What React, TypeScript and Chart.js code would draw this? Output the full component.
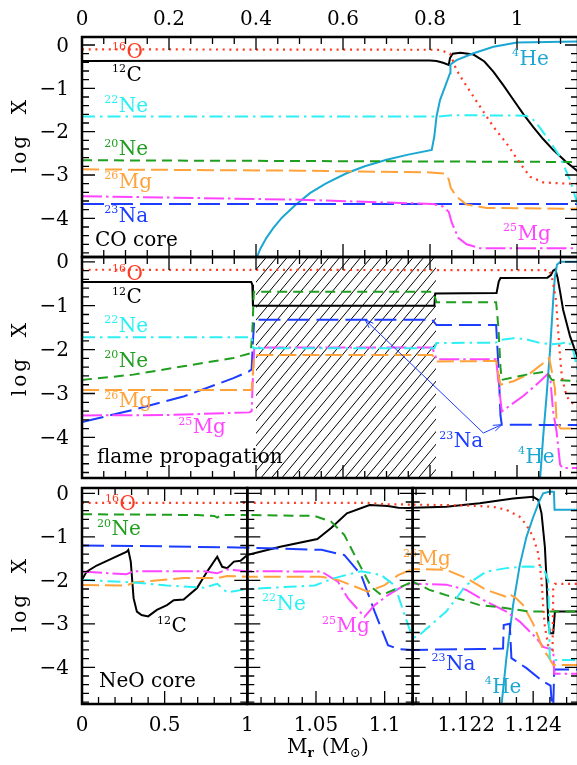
import React, { useEffect, useRef } from "react";
import { Chart, registerables } from "chart.js";

Chart.register(...registerables);

type Pt = [number, number];

// ---------- CO core: composition before carbon ignition ----------
const coO16: Pt[] = [[0, -0.1], [0.823, -0.11], [0.846, -0.2], [0.861, -0.58], [0.884, -0.95], [0.915, -1.42], [0.946, -1.89], [0.976, -2.27], [1.007, -2.73], [1.03, -3.04], [1.06, -3.17], [1.114, -3.2], [1.14, -3.2]];
const coC12: Pt[] = [[0, -0.37], [0.6, -0.36], [0.8, -0.36], [0.815, -0.37], [0.83, -0.41], [0.843, -0.46], [0.846, -0.3], [0.852, -0.2], [0.87, -0.18], [0.9, -0.22], [0.925, -0.38], [0.946, -0.62], [0.97, -0.95], [0.992, -1.27], [1.015, -1.6], [1.037, -1.89], [1.06, -2.17], [1.083, -2.42], [1.11, -2.67], [1.14, -2.92]];
const coNe22: Pt[] = [[0, -1.65], [0.82, -1.65], [0.85, -1.62], [1.02, -1.63], [1.035, -1.7], [1.045, -1.81], [1.068, -2.12], [1.099, -2.58], [1.122, -3.12], [1.14, -3.7]];
const coNe20: Pt[] = [[0, -2.66], [1.14, -2.7]];
const coMg26: Pt[] = [[0, -2.87], [0.5, -2.9], [0.8, -2.94], [0.835, -2.97], [0.843, -3.1], [0.848, -3.3], [0.861, -3.5], [0.884, -3.68], [0.93, -3.76], [1.14, -3.78]];
const coMg25: Pt[] = [[0, -3.49], [0.5, -3.57], [0.808, -3.67], [0.83, -3.73], [0.843, -3.85], [0.85, -4.1], [0.865, -4.45], [0.884, -4.6], [0.915, -4.69], [1.14, -4.69]];
const coNa23: Pt[] = [[0, -3.67], [1.14, -3.67]];
const coHe4: Pt[] = [[0.4, -4.95], [0.41, -4.7], [0.424, -4.45], [0.44, -4.22], [0.46, -3.98], [0.49, -3.7], [0.524, -3.42], [0.56, -3.2], [0.608, -2.96], [0.65, -2.8], [0.7, -2.65], [0.75, -2.53], [0.804, -2.42], [0.81, -2.1], [0.815, -1.65], [0.823, -1.27], [0.835, -0.95], [0.846, -0.65], [0.847, -0.45], [0.861, -0.35], [0.9, -0.19], [0.946, -0.04], [1.0, 0.06], [1.07, 0.07], [1.14, 0.08]];

// ---------- flame propagation ----------
const flameO16: Pt[] = [[0, -0.18], [1.074, -0.19], [1.08, -0.35], [1.085, -0.6], [1.09, -0.9], [1.095, -1.62], [1.099, -2.16], [1.103, -2.61], [1.114, -3.07], [1.13, -3.25], [1.14, -3.3]];
const flameC12: Pt[] = [[0, -0.46], [0.389, -0.46], [0.3915, -0.52], [0.393, -1.0], [0.81, -1.0], [0.812, -0.72], [0.953, -0.71], [0.958, -0.45], [0.962, -0.37], [1.07, -0.36], [1.078, -0.3], [1.083, -0.2], [1.088, -0.17], [1.093, -0.35], [1.099, -0.68], [1.106, -1.09], [1.122, -1.7], [1.14, -2.2]];
const flameNe22: Pt[] = [[0, -1.72], [0.39, -1.72], [0.394, -1.97], [0.81, -1.97], [0.815, -1.85], [0.952, -1.84], [0.96, -1.78], [0.992, -1.74], [1.02, -1.76], [1.053, -1.85], [1.08, -1.88], [1.1, -1.86], [1.12, -1.83], [1.13, -2.05], [1.14, -2.5]];
const flameNe20: Pt[] = [[0, -2.69], [0.118, -2.57], [0.233, -2.38], [0.348, -2.19], [0.388, -2.08], [0.392, -1.5], [0.395, -0.68], [0.805, -0.68], [0.81, -0.76], [0.815, -0.92], [0.952, -0.92], [0.957, -1.47], [0.962, -2.4], [0.965, -2.69], [1.022, -2.57], [1.068, -2.5], [1.075, -2.62], [1.08, -2.69], [1.14, -2.72]];
const flameMg26: Pt[] = [[0, -2.92], [0.39, -2.92], [0.393, -2.5], [0.396, -2.12], [0.805, -2.12], [0.815, -2.27], [0.952, -2.26], [0.958, -2.6], [0.962, -2.8], [0.992, -2.72], [1.03, -2.54], [1.06, -2.31], [1.074, -2.19], [1.08, -2.5], [1.087, -2.87], [1.091, -3.64], [1.1, -3.8], [1.14, -3.8]];
const flameMg25: Pt[] = [[0, -3.5], [0.2, -3.49], [0.385, -3.43], [0.39, -3.4], [0.393, -2.6], [0.396, -1.95], [0.805, -1.95], [0.815, -2.22], [0.952, -2.22], [0.958, -2.8], [0.965, -3.41], [1.015, -3.05], [1.05, -2.75], [1.07, -2.56], [1.076, -2.6], [1.083, -3.41], [1.091, -3.87], [1.099, -4.62], [1.105, -4.7], [1.14, -4.7]];
const flameNa23: Pt[] = [[0, -3.65], [0.118, -3.37], [0.233, -3.07], [0.348, -2.65], [0.383, -2.5], [0.39, -2.45], [0.393, -1.8], [0.396, -1.32], [0.805, -1.32], [0.815, -1.44], [0.952, -1.44], [0.958, -2.5], [0.962, -3.5], [0.965, -3.71], [1.14, -3.72]];
const flameHe4: Pt[] = [[1.053, -4.95], [1.06, -4.0], [1.068, -3.05], [1.076, -2.0], [1.083, -0.9], [1.087, -0.35], [1.092, -0.06], [1.1, 0.0], [1.14, 0.0]];
// mass range swept by the burning front
const flameZone: Pt = [0.4, 0.814];
// arrow from the 23Na label to its two plateaus
const naArrowFrom: Pt = [0.9225, -3.9];
const naArrowTo: Pt[] = [[0.651, -1.32], [0.965, -3.71]];

// ---------- NeO core ----------
const neoO16: Pt[] = [[0, -0.22], [1.088, -0.22], [1.1, -0.25], [1.1204, -0.26], [1.122, -0.28], [1.1228, -0.31], [1.1232, -0.38], [1.1236, -0.54], [1.1238, -0.73], [1.124, -1.0], [1.12415, -1.38], [1.12425, -1.99], [1.1243, -2.6], [1.12435, -3.07], [1.12445, -3.5], [1.12458, -3.6], [1.1246, -2.2], [1.12465, -2.08], [1.1254, -2.08]];
const neoC12: Pt[] = [[0, -1.99], [0.028, -1.8], [0.089, -1.66], [0.18, -1.5], [0.271, -1.34], [0.28, -1.3], [0.295, -1.57], [0.312, -2.41], [0.332, -2.72], [0.36, -2.8], [0.4, -2.83], [0.453, -2.68], [0.514, -2.57], [0.555, -2.46], [0.615, -2.44], [0.696, -2.18], [0.757, -1.8], [0.818, -1.46], [0.848, -1.69], [0.878, -1.72], [0.919, -1.57], [0.959, -1.55], [1.0, -1.42], [1.024, -1.23], [1.051, -1.05], [1.061, -0.8], [1.0725, -0.46], [1.089, -0.27], [1.1024, -0.29], [1.11, -0.33], [1.117, -0.34], [1.1204, -0.33], [1.1214, -0.31], [1.1224, -0.23], [1.1234, -0.12], [1.124, -0.08], [1.12415, -0.15], [1.12425, -0.46], [1.12435, -1.23], [1.1244, -1.99], [1.12445, -2.91], [1.1245, -3.22], [1.1246, -3.22], [1.12465, -2.72], [1.1254, -2.72]];
const neoNe22: Pt[] = [[0, -1.99], [0.312, -2.05], [0.514, -2.12], [0.737, -2.17], [0.818, -2.08], [0.878, -2.28], [1.0, -2.2], [1.049, -2.12], [1.0634, -1.95], [1.0829, -1.79], [1.0975, -1.88], [1.1073, -2.12], [1.1146, -2.8], [1.1204, -3.33], [1.1206, -3.26], [1.1214, -2.72], [1.122, -2.11], [1.1226, -1.8], [1.1232, -1.72], [1.1238, -1.68], [1.1243, -1.7], [1.12445, -2.0], [1.1245, -3.83], [1.1254, -3.83]];
const neoNe20: Pt[] = [[0, -0.48], [0.7, -0.5], [0.8, -0.52], [0.818, -0.56], [0.84, -0.5], [1.0, -0.5], [1.049, -0.52], [1.061, -0.65], [1.0707, -0.96], [1.0805, -1.57], [1.0902, -2.15], [1.0975, -2.34], [1.1098, -2.18], [1.1204, -2.03], [1.1209, -2.22], [1.1214, -2.34], [1.1219, -2.45], [1.1224, -2.57], [1.123, -2.62], [1.1239, -2.72], [1.1254, -2.72]];
const neoMg26: Pt[] = [[0, -2.11], [0.27, -2.12], [0.312, -2.05], [0.615, -1.95], [0.818, -1.95], [0.878, -1.9], [1.0, -1.92], [1.054, -1.92], [1.0659, -1.99], [1.0756, -2.11], [1.0878, -2.26], [1.1, -2.11], [1.1098, -1.88], [1.1204, -1.74], [1.1214, -1.76], [1.122, -1.95], [1.1226, -2.22], [1.1232, -2.38], [1.1233, -2.32], [1.1235, -2.42], [1.1237, -2.57], [1.124, -3.0], [1.1243, -3.6], [1.12445, -3.75], [1.1246, -3.95], [1.1254, -3.95]];
const neoMg25: Pt[] = [[0, -1.8], [0.27, -1.86], [0.312, -1.79], [0.74, -1.79], [0.818, -1.84], [0.878, -1.75], [1.0, -1.79], [1.054, -1.8], [1.0659, -2.03], [1.0732, -2.41], [1.0853, -2.84], [1.0927, -2.57], [1.1024, -2.34], [1.1146, -2.11], [1.1204, -2.08], [1.1214, -2.1], [1.122, -2.22], [1.1226, -2.49], [1.1232, -2.72], [1.1236, -2.95], [1.1241, -3.33], [1.1243, -3.53], [1.1246, -3.6], [1.12463, -4.15], [1.1254, -4.15]];
const neoNa23: Pt[] = [[0, -1.2], [0.5, -1.22], [1.0, -1.25], [1.054, -1.3], [1.0707, -1.42], [1.0829, -1.88], [1.0927, -2.72], [1.1024, -3.49], [1.1098, -3.58], [1.1204, -3.6], [1.1224, -3.58], [1.1231, -3.57], [1.12312, -3.03], [1.1233, -3.0], [1.12335, -3.79], [1.1238, -4.02], [1.1243, -4.33], [1.12452, -4.42], [1.12456, -4.9], [1.1246, -4.9], [1.12463, -4.05], [1.1254, -4.05]];
const neoHe4: Pt[] = [[1.12305, -4.9], [1.1232, -3.79], [1.1234, -2.57], [1.1236, -1.65], [1.1238, -1.0], [1.124, -0.55], [1.1242, -0.15], [1.1243, 0.0], [1.1245, 0.04], [1.12462, 0.03], [1.12464, -0.38], [1.1254, -0.38]];

// ---------- axis ranges ----------
const massRangeCO: Pt = [0, 1.1402];
const neoRangeA: Pt = [0, 1];
const neoRangeB: Pt = [1, 1.1204];
const neoRangeC: Pt = [1.1204, 1.12534];
const logRangeCO: Pt = [-4.893, 0.185];
const logRangeFlame: Pt = [-4.925, 0.11];
const logRangeNeO: Pt = [-4.844, 0.122];

type Species = "O16" | "C12" | "Ne22" | "Ne20" | "Mg26" | "Mg25" | "Na23" | "He4";

const STYLE: Record<Species, { color: string; dash: number[]; width: number }> = {
  O16: { color: "#ff3a22", dash: [2, 4.7], width: 2.2 },
  C12: { color: "#000000", dash: [], width: 2 },
  Ne22: { color: "#2cf0f4", dash: [13, 5, 2.5, 5], width: 2 },
  Ne20: { color: "#1f9e1f", dash: [10, 6], width: 2 },
  Mg26: { color: "#ffa23a", dash: [17, 6], width: 2 },
  Mg25: { color: "#ff45ff", dash: [20, 4, 2.5, 4], width: 2 },
  Na23: { color: "#1c3dff", dash: [22, 7], width: 2 },
  He4: { color: "#1ca7d3", dash: [], width: 2 },
};

const DRAW_ORDER: Species[] = ["O16", "Ne22", "Ne20", "Mg26", "Mg25", "Na23", "He4", "C12"];

const FONT = '"DejaVu Serif", serif';
const CANVAS_W = 620;
const CANVAS_H = 765;

type Label = { s: Species | null; x: number; y: number; sup?: string; t: string };
type TickSpec = { step: number; every: number; label: "top" | "bottom" | null; skip?: number[] };

type PanelSpec = {
  key: string;
  box: { l: number; t: number; r: number; b: number };
  xr: Pt;
  yr: Pt;
  series: Partial<Record<Species, Pt[]>>;
  xt: TickSpec;
  yLabels: boolean;
  labels: Label[];
  yTitleY?: number;
  hatch?: Pt;
  arrows?: { from: Pt; to: Pt[] };
  xTitle?: boolean;
};

const coSeries = { O16: coO16, C12: coC12, Ne22: coNe22, Ne20: coNe20, Mg26: coMg26, Mg25: coMg25, Na23: coNa23, He4: coHe4 };
const flameSeries = { O16: flameO16, C12: flameC12, Ne22: flameNe22, Ne20: flameNe20, Mg26: flameMg26, Mg25: flameMg25, Na23: flameNa23, He4: flameHe4 };
const neoSeries = { O16: neoO16, C12: neoC12, Ne22: neoNe22, Ne20: neoNe20, Mg26: neoMg26, Mg25: neoMg25, Na23: neoNa23, He4: neoHe4 };

const PANELS: PanelSpec[] = [
  {
    key: "co",
    box: { l: 82, t: 37, r: 578, b: 257 },
    xr: massRangeCO,
    yr: logRangeCO,
    series: coSeries,
    xt: { step: 0.05, every: 4, label: "top" },
    yLabels: true,
    yTitleY: 135,
    labels: [
      { s: "O16", x: 0.069, y: -0.3, sup: "16", t: "O" },
      { s: "C12", x: 0.069, y: -0.83, sup: "12", t: "C" },
      { s: "Ne22", x: 0.051, y: -1.546, sup: "22", t: "Ne" },
      { s: "Ne20", x: 0.051, y: -2.54, sup: "20", t: "Ne" },
      { s: "Mg26", x: 0.051, y: -3.3, sup: "26", t: "Mg" },
      { s: "Na23", x: 0.051, y: -4.085, sup: "23", t: "Na" },
      { s: "He4", x: 0.9885, y: -0.46, sup: "4", t: "He" },
      { s: "Mg25", x: 0.968, y: -4.5, sup: "25", t: "Mg" },
      { s: null, x: 0.03, y: -4.64, t: "CO core" },
    ],
  },
  {
    key: "flame",
    box: { l: 82, t: 257, r: 578, b: 478 },
    xr: massRangeCO,
    yr: logRangeFlame,
    series: flameSeries,
    xt: { step: 0.05, every: 4, label: null },
    yLabels: true,
    yTitleY: 358,
    hatch: flameZone,
    arrows: { from: naArrowFrom, to: naArrowTo },
    labels: [
      { s: "O16", x: 0.069, y: -0.415, sup: "16", t: "O" },
      { s: "C12", x: 0.069, y: -0.94, sup: "12", t: "C" },
      { s: "Ne22", x: 0.051, y: -1.59, sup: "22", t: "Ne" },
      { s: "Ne20", x: 0.051, y: -2.39, sup: "20", t: "Ne" },
      { s: "Mg26", x: 0.051, y: -3.31, sup: "26", t: "Mg" },
      { s: "Mg25", x: 0.221, y: -3.9, sup: "25", t: "Mg" },
      { s: null, x: 0.0345, y: -4.58, t: "flame propagation" },
      { s: "Na23", x: 0.821, y: -4.22, sup: "23", t: "Na" },
      { s: "He4", x: 1.002, y: -4.58, sup: "4", t: "He" },
    ],
  },
  {
    key: "neoA",
    box: { l: 82, t: 488, r: 247.3, b: 704 },
    xr: neoRangeA,
    yr: logRangeNeO,
    series: neoSeries,
    xt: { step: 0.1, every: 5, label: "bottom" },
    yLabels: true,
    yTitleY: 594,
    xTitle: true,
    labels: [
      { s: "O16", x: 0.139, y: -0.384, sup: "16", t: "O" },
      { s: "Ne20", x: 0.091, y: -0.96, sup: "20", t: "Ne" },
      { s: "C12", x: 0.454, y: -3.19, sup: "12", t: "C" },
      { s: null, x: 0.103, y: -4.45, t: "NeO core" },
    ],
  },
  {
    key: "neoB",
    box: { l: 247.3, t: 488, r: 412.7, b: 704 },
    xr: neoRangeB,
    yr: logRangeNeO,
    series: neoSeries,
    xt: { step: 0.01, every: 5, label: "bottom", skip: [1] },
    yLabels: false,
    labels: [
      { s: "Ne22", x: 1.0107, y: -2.68, sup: "22", t: "Ne" },
      { s: "Mg25", x: 1.0544, y: -3.19, sup: "25", t: "Mg" },
      { s: "Mg26", x: 1.1134, y: -1.65, sup: "26", t: "Mg" },
    ],
  },
  {
    key: "neoC",
    box: { l: 412.7, t: 488, r: 578, b: 704 },
    xr: neoRangeC,
    yr: logRangeNeO,
    series: neoSeries,
    xt: { step: 0.0005, every: 4, label: "bottom" },
    yLabels: false,
    labels: [
      { s: "Na23", x: 1.12096, y: -4.06, sup: "23", t: "Na" },
      { s: "He4", x: 1.12255, y: -4.59, sup: "4", t: "He" },
    ],
  },
];

function fmt(v: number): string {
  const s = parseFloat(v.toFixed(5)).toString();
  return s.replace("-", "\u2212");
}

function drawIsotope(ctx: CanvasRenderingContext2D, x: number, y: number, sup: string | undefined, text: string, color: string) {
  ctx.fillStyle = color;
  ctx.textAlign = "left";
  ctx.textBaseline = "alphabetic";
  let cx = x;
  if (sup) {
    ctx.font = `11px ${FONT}`;
    ctx.fillText(sup, cx, y - 8.5);
    cx += ctx.measureText(sup).width + 0.5;
  }
  ctx.font = `20px ${FONT}`;
  ctx.fillText(text, cx, y);
}

function framePlugin(p: PanelSpec) {
  return {
    id: "frame_" + p.key,
    beforeDatasetsDraw(chart: any) {
      if (!p.hatch) return;
      const ctx: CanvasRenderingContext2D = chart.ctx;
      const { top, bottom } = chart.chartArea;
      const xs = chart.scales.x;
      const xa = xs.getPixelForValue(p.hatch[0]);
      const xb = xs.getPixelForValue(p.hatch[1]);
      const h = bottom - top;
      const slope = 1.2;
      const run = h / slope;
      ctx.save();
      ctx.beginPath();
      ctx.rect(xa, top, xb - xa, h);
      ctx.clip();
      ctx.strokeStyle = "#000";
      ctx.lineWidth = 1;
      ctx.beginPath();
      for (let s = xa - run; s < xb + 2; s += 10.5) {
        ctx.moveTo(s, bottom);
        ctx.lineTo(s + run, top);
      }
      ctx.stroke();
      ctx.restore();
    },
    afterDatasetsDraw(chart: any) {
      const ctx: CanvasRenderingContext2D = chart.ctx;
      const { left, right, top, bottom } = chart.chartArea;
      const xs = chart.scales.x;
      const ys = chart.scales.y;
      ctx.save();
      ctx.strokeStyle = "#000";
      ctx.lineWidth = 1.3;
      ctx.lineCap = "butt";

      // x ticks on top and bottom edges
      const xt = p.xt;
      const k0 = Math.ceil(xs.min / xt.step - 1e-6);
      const k1 = Math.floor(xs.max / xt.step + 1e-6);
      ctx.beginPath();
      for (let k = k0; k <= k1; k++) {
        const px = xs.getPixelForValue(k * xt.step);
        const len = k % xt.every === 0 ? 13 : 7;
        ctx.moveTo(px, top);
        ctx.lineTo(px, top + len);
        ctx.moveTo(px, bottom);
        ctx.lineTo(px, bottom - len);
      }
      // y ticks on left and right edges
      const yStep = 0.2;
      const j0 = Math.ceil(ys.min / yStep - 1e-6);
      const j1 = Math.floor(ys.max / yStep + 1e-6);
      for (let j = j0; j <= j1; j++) {
        const py = ys.getPixelForValue(j * yStep);
        const len = j % 5 === 0 ? 13 : 7;
        ctx.moveTo(left, py);
        ctx.lineTo(left + len, py);
        ctx.moveTo(right, py);
        ctx.lineTo(right - len, py);
      }
      ctx.stroke();

      // frame
      ctx.lineWidth = 2.5;
      ctx.strokeRect(left, top, right - left, bottom - top);

      // tick labels
      ctx.fillStyle = "#000";
      ctx.font = `20px ${FONT}`;
      if (xt.label) {
        ctx.textAlign = "center";
        ctx.textBaseline = "alphabetic";
        for (let k = k0; k <= k1; k++) {
          if (k % xt.every !== 0) continue;
          const v = k * xt.step;
          if (xt.skip && xt.skip.some((s) => Math.abs(s - v) < 1e-9)) continue;
          const px = xs.getPixelForValue(v);
          ctx.fillText(fmt(v), px, xt.label === "top" ? 25 : 731);
        }
      }
      if (p.yLabels) {
        ctx.textAlign = "right";
        ctx.textBaseline = "alphabetic";
        for (let j = j0; j <= j1; j++) {
          if (j % 5 !== 0) continue;
          const v = Math.round(j * yStep);
          const py = ys.getPixelForValue(v);
          ctx.fillText(fmt(v), 69, py + 6.5);
        }
      }

      // y-axis title
      if (p.yTitleY !== undefined) {
        ctx.save();
        ctx.translate(26, p.yTitleY);
        ctx.rotate(-Math.PI / 2);
        ctx.textAlign = "center";
        ctx.textBaseline = "alphabetic";
        (ctx as any).letterSpacing = "3px";
        ctx.fillText("log  X", 0, 0);
        ctx.restore();
      }

      // x-axis title
      if (p.xTitle) {
        let x = 287;
        const base = 753;
        ctx.textAlign = "left";
        ctx.font = `20px ${FONT}`;
        ctx.fillText("M", x, base);
        x += ctx.measureText("M").width;
        ctx.font = `bold 12px ${FONT}`;
        ctx.fillText("r", x, base + 4);
        x += ctx.measureText("r").width + 8;
        ctx.font = `20px ${FONT}`;
        ctx.fillText("(M", x, base);
        x += ctx.measureText("(M").width;
        ctx.font = `13px ${FONT}`;
        ctx.fillText("\u2299", x, base + 4);
        x += ctx.measureText("\u2299").width;
        ctx.font = `20px ${FONT}`;
        ctx.fillText(")", x, base);
      }

      // arrows
      if (p.arrows) {
        const fx = xs.getPixelForValue(p.arrows.from[0]);
        const fy = ys.getPixelForValue(p.arrows.from[1]);
        ctx.strokeStyle = STYLE.Na23.color;
        ctx.lineWidth = 1;
        for (const t of p.arrows.to) {
          const tx = xs.getPixelForValue(t[0]);
          const ty = ys.getPixelForValue(t[1]);
          const ang = Math.atan2(ty - fy, tx - fx);
          ctx.beginPath();
          ctx.moveTo(fx, fy);
          ctx.lineTo(tx, ty);
          const hl = 9;
          const spread = 0.35;
          ctx.moveTo(tx - hl * Math.cos(ang - spread), ty - hl * Math.sin(ang - spread));
          ctx.lineTo(tx, ty);
          ctx.lineTo(tx - hl * Math.cos(ang + spread), ty - hl * Math.sin(ang + spread));
          ctx.stroke();
        }
      }

      // curve labels
      for (const lb of p.labels) {
        const px = xs.getPixelForValue(lb.x);
        const py = ys.getPixelForValue(lb.y);
        drawIsotope(ctx, px, py, lb.sup, lb.t, lb.s ? STYLE[lb.s].color : "#000");
      }
      ctx.restore();
    },
  };
}

function buildConfig(p: PanelSpec): any {
  const datasets = DRAW_ORDER.filter((s) => p.series[s]).map((s) => ({
    label: s,
    data: (p.series[s] as Pt[]).map(([x, y]) => ({ x, y })),
    showLine: true,
    borderColor: STYLE[s].color,
    borderDash: STYLE[s].dash,
    borderWidth: STYLE[s].width,
    pointRadius: 0,
    pointHoverRadius: 0,
    fill: false,
    tension: 0,
    clip: 0,
  }));
  return {
    type: "scatter",
    data: { datasets },
    options: {
      responsive: false,
      animation: false,
      devicePixelRatio: 1,
      events: [],
      layout: {
        padding: { left: p.box.l, top: p.box.t, right: CANVAS_W - p.box.r, bottom: CANVAS_H - p.box.b },
      },
      scales: {
        x: { type: "linear", min: p.xr[0], max: p.xr[1], display: false },
        y: { type: "linear", min: p.yr[0], max: p.yr[1], display: false },
      },
      plugins: { legend: { display: false }, tooltip: { enabled: false } },
    },
    plugins: [framePlugin(p)],
  };
}

function Panel({ spec }: { spec: PanelSpec }) {
  const ref = useRef<HTMLCanvasElement>(null);
  useEffect(() => {
    const chart = new Chart(ref.current as HTMLCanvasElement, buildConfig(spec));
    return () => chart.destroy();
  }, [spec]);
  return (
    <canvas
      ref={ref}
      width={CANVAS_W}
      height={CANVAS_H}
      style={{ position: "absolute", left: 0, top: 0, width: CANVAS_W, height: CANVAS_H }}
    />
  );
}

export default function App() {
  return (
    <div
      style={{
        position: "fixed",
        left: 0,
        top: 0,
        width: 577,
        height: 765,
        overflow: "hidden",
        background: "#fff",
      }}
    >
      {PANELS.map((p) => (
        <Panel key={p.key} spec={p} />
      ))}
    </div>
  );
}
